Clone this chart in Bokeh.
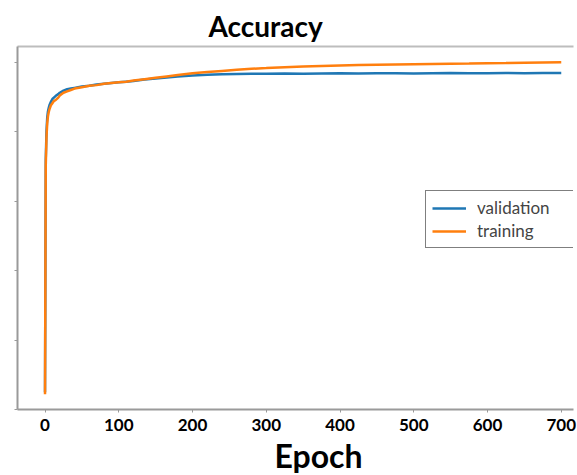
from bokeh.plotting import figure
from bokeh.models import Range1d, FixedTicker, LinearAxis, Title, Legend, LegendItem
from bokeh.embed import file_html
from bokeh.resources import INLINE

title_text = "Accuracy"
x_label = "Epoch"
x_ticks = [0, 100, 200, 300, 400, 500, 600, 700]
y_ticks = [0.5, 0.6, 0.7, 0.8, 0.9, 1.0]

epochs = [0, 1, 2, 3, 4, 5, 6, 8, 10, 12, 15, 18, 20, 25, 30, 35, 40, 50, 60, 70,
          80, 90, 100, 110, 120, 135, 150, 165, 180, 200, 220, 240, 260, 280, 300,
          325, 350, 375, 400, 425, 450, 475, 500, 525, 550, 575, 600, 625, 650, 675, 700]

val_acc = [0.525, 0.860, 0.900, 0.920, 0.929, 0.934, 0.938, 0.943, 0.947, 0.949,
           0.952, 0.954, 0.956, 0.959, 0.961, 0.962, 0.963, 0.965, 0.966, 0.968,
           0.969, 0.970, 0.971, 0.972, 0.973, 0.975, 0.9765, 0.978, 0.9795, 0.981,
           0.982, 0.9825, 0.983, 0.9832, 0.9834, 0.9838, 0.9835, 0.9838, 0.984,
           0.9837, 0.984, 0.9842, 0.9839, 0.9841, 0.9843, 0.984, 0.9842, 0.9844,
           0.9842, 0.9844, 0.9845]

train_acc = [0.522, 0.850, 0.892, 0.912, 0.922, 0.928, 0.932, 0.938, 0.941, 0.944,
             0.946, 0.949, 0.952, 0.956, 0.958, 0.960, 0.962, 0.964, 0.966, 0.967,
             0.969, 0.970, 0.971, 0.972, 0.9735, 0.9755, 0.9775, 0.9795, 0.9815, 0.984,
             0.9858, 0.9875, 0.989, 0.9905, 0.9915, 0.9928, 0.9938, 0.9946, 0.9953,
             0.9958, 0.9963, 0.9967, 0.9971, 0.9975, 0.9979, 0.9982, 0.9986, 0.9989,
             0.9993, 0.9996, 0.9999]

BLUE = "#1f77b4"
ORANGE = "#ff7f0e"
AXIS_GRAY = "#9a9a9a"
FONT = "Lato"

p = figure(width=577, height=475, output_backend="svg", toolbar_location=None,
           x_range=Range1d(-37.3, 716.6), y_range=Range1d(0.5, 1.0226),
           min_border_left=17, min_border_right=4, min_border_top=46, min_border_bottom=66,
           background_fill_color="white", border_fill_color="white")
p.title.text = title_text
p.title.align = "left"
p.title.offset = 191
p.title.text_font = FONT
p.title.text_font_style = "bold"
p.title.text_font_size = "28px"
p.title.text_color = "black"
p.title.standoff = 8
p.outline_line_color = None
p.grid.visible = False

# x axis
xa = p.xaxis[0]
xa.ticker = FixedTicker(ticks=x_ticks)
xa.axis_line_color = AXIS_GRAY
xa.axis_line_width = 2
xa.major_tick_line_color = AXIS_GRAY
xa.major_tick_in = 0
xa.major_tick_out = 3
xa.minor_tick_line_color = None
xa.major_label_text_font = FONT
xa.major_label_text_font_style = "bold"
xa.major_label_text_font_size = "17px"
xa.major_label_text_color = "black"
xa.major_label_standoff = 6

# y axis (ticks only, no labels)
ya = p.yaxis[0]
ya.ticker = FixedTicker(ticks=y_ticks)
ya.axis_line_color = AXIS_GRAY
ya.axis_line_width = 2
ya.major_tick_line_color = AXIS_GRAY
ya.major_tick_in = 0
ya.major_tick_out = 3
ya.minor_tick_line_color = None
ya.major_label_overrides = {v: "" for v in y_ticks}
ya.major_label_standoff = 0

# top border line
top = LinearAxis(ticker=FixedTicker(ticks=[]), major_tick_line_color=None,
                 minor_tick_line_color=None, major_label_standoff=0,
                 axis_line_color="#bdbdbd", axis_line_width=2)
p.add_layout(top, "above")

r_val = p.line(epochs, val_acc, line_color=BLUE, line_width=2.5)
r_train = p.line(epochs, train_acc, line_color=ORANGE, line_width=2.5)

legend = Legend(items=[LegendItem(label="validation", renderers=[r_val]),
                       LegendItem(label="training", renderers=[r_train])],
                location=(408, 161), orientation="vertical",
                border_line_color="black", border_line_width=1.5,
                background_fill_color="white", background_fill_alpha=1.0,
                label_text_font=FONT, label_text_font_size="17px",
                glyph_width=34, glyph_height=20, label_height=20, label_width=92,
                label_standoff=11, padding=6, spacing=2, margin=0)
p.add_layout(legend)

xt = Title(text=x_label, align="left", offset=257, text_font=FONT, text_font_style="bold",
           text_font_size="32px", text_color="black", standoff=0)
p.add_layout(xt, "below")

open("out.html", "w").write(file_html(p, INLINE))
